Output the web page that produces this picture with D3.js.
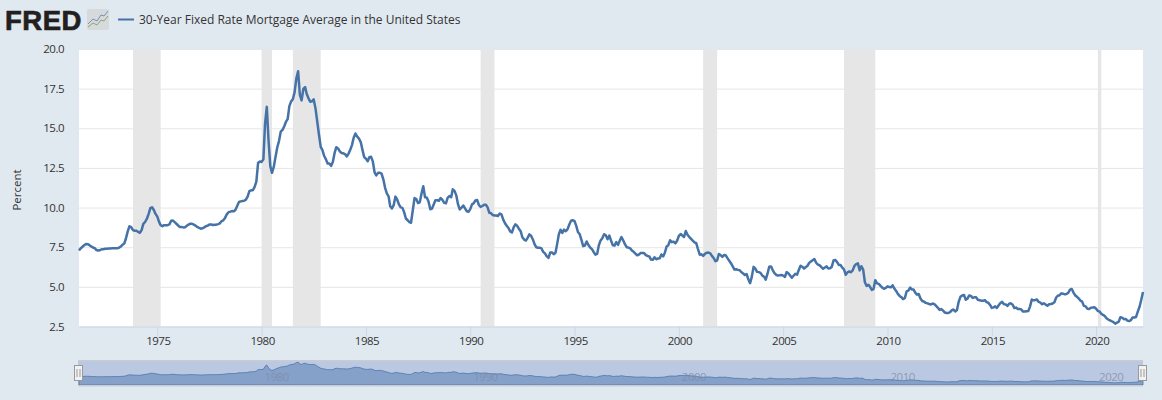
<!doctype html>
<html lang="en">
<head>
<meta charset="utf-8">
<title>30-Year Fixed Rate Mortgage Average</title>
<script src="https://d3js.org/d3.v7.min.js"></script>
<style>
  html, body { margin: 0; padding: 0; background: #e1e9f0; }
  svg { display: block; font-family: "Open Sans", sans-serif; }
  .axis text { fill: #333; font-size: 11.5px; letter-spacing: -0.5px; font-family: "Open Sans", sans-serif; }
  .xaxis .domain { stroke: #ccd6eb; }
  .xaxis line { stroke: #ccd6eb; }
  .grid line { stroke: #e6e6e6; }
  .grid .domain { display: none; }
</style>
</head>
<body>
<svg id="chart" width="1162" height="400"></svg>
<script>
var seriesName = "30-Year Fixed Rate Mortgage Average in the United States";
var yLabel = "Percent";
var yTicks = [2.5, 5, 7.5, 10, 12.5, 15, 17.5, 20];
var xTickYears = [1975, 1980, 1985, 1990, 1995, 2000, 2005, 2010, 2015, 2020];
var navTickYears = [1980, 1990, 2000, 2010, 2020];

// recessions, as [year, month]
var recessionStarts = [[1973, 10], [1980, 0], [1981, 6], [1990, 6], [2001, 2], [2007, 11], [2020, 1]];
var recessionEnds = [[1975, 2], [1980, 6], [1982, 10], [1991, 2], [2001, 10], [2009, 5], [2020, 3]];

var firstMonth = [1971, 3];
// monthly values in percent, one row per year, first row starts in April
var rates = [
  7.29, 7.43, 7.53, 7.62, 7.70, 7.69, 7.63, 7.55, 7.48,
  7.44, 7.32, 7.29, 7.31, 7.37, 7.37, 7.40, 7.40, 7.42, 7.42, 7.43, 7.44,
  7.44, 7.44, 7.46, 7.54, 7.65, 7.73, 8.05, 8.50, 8.82, 8.77, 8.58, 8.54,
  8.54, 8.46, 8.41, 8.58, 8.97, 9.09, 9.28, 9.59, 9.96, 10.02, 9.85, 9.60,
  9.43, 9.10, 8.89, 8.82, 8.89, 8.89, 8.89, 8.94, 9.17, 9.18, 9.08, 8.98,
  8.87, 8.77, 8.78, 8.75, 8.76, 8.85, 8.93, 8.98, 8.98, 8.92, 8.86, 8.78,
  8.72, 8.67, 8.69, 8.75, 8.82, 8.86, 8.94, 8.94, 8.90, 8.92, 8.92, 8.96,
  9.01, 9.15, 9.20, 9.35, 9.57, 9.71, 9.74, 9.78, 9.76, 9.86, 10.11, 10.35,
  10.39, 10.41, 10.43, 10.50, 10.69, 11.04, 11.09, 11.09, 11.30, 11.64, 12.83, 12.90,
  12.88, 13.04, 15.28, 16.35, 14.26, 12.61, 12.19, 12.56, 13.20, 13.79, 14.21, 14.79,
  14.90, 15.13, 15.40, 15.58, 16.40, 16.70, 16.83, 17.28, 18.16, 18.60, 17.10, 16.76,
  17.48, 17.60, 17.16, 16.89, 16.68, 16.70, 16.82, 16.27, 15.43, 14.61, 13.83, 13.62,
  13.25, 13.04, 12.78, 12.78, 12.63, 12.87, 13.43, 13.81, 13.73, 13.54, 13.44, 13.42,
  13.37, 13.23, 13.39, 13.65, 13.94, 14.42, 14.67, 14.47, 14.35, 14.13, 13.64, 13.18,
  13.08, 12.92, 13.17, 13.20, 12.91, 12.22, 12.03, 12.19, 12.19, 12.14, 11.78, 11.26,
  10.89, 10.71, 10.08, 9.94, 10.15, 10.69, 10.51, 10.20, 10.01, 9.98, 9.70, 9.31,
  9.20, 9.08, 9.04, 9.83, 10.60, 10.54, 10.28, 10.33, 10.89, 11.35, 10.65, 10.64,
  10.38, 9.89, 9.93, 10.20, 10.46, 10.46, 10.43, 10.60, 10.48, 10.30, 10.27, 10.61,
  10.73, 10.65, 11.15, 11.05, 10.77, 10.20, 9.88, 9.99, 10.13, 9.95, 9.77, 9.74,
  9.90, 10.20, 10.27, 10.45, 10.48, 10.16, 10.04, 10.10, 10.18, 10.18, 10.01, 9.67,
  9.64, 9.53, 9.50, 9.50, 9.47, 9.62, 9.57, 9.24, 9.01, 8.86, 8.71, 8.50,
  8.43, 8.76, 8.94, 8.85, 8.67, 8.51, 8.13, 7.98, 7.92, 8.09, 8.31, 8.22,
  7.99, 7.68, 7.50, 7.47, 7.47, 7.42, 7.21, 7.11, 6.92, 6.83, 7.16, 7.17,
  7.06, 7.15, 7.68, 8.32, 8.60, 8.40, 8.61, 8.51, 8.64, 8.93, 9.17, 9.20,
  9.15, 8.83, 8.46, 8.32, 7.96, 7.57, 7.61, 7.86, 7.64, 7.48, 7.38, 7.20,
  7.03, 7.08, 7.62, 7.93, 8.07, 8.32, 8.25, 8.00, 8.23, 7.92, 7.62, 7.60,
  7.82, 7.65, 7.90, 8.14, 7.94, 7.69, 7.50, 7.48, 7.43, 7.29, 7.21, 7.10,
  6.99, 7.04, 7.13, 7.14, 7.14, 7.00, 6.95, 6.92, 6.72, 6.71, 6.87, 6.74,
  6.79, 6.81, 7.04, 6.92, 7.15, 7.55, 7.63, 7.94, 7.82, 7.85, 7.74, 7.91,
  8.21, 8.33, 8.24, 8.15, 8.52, 8.29, 8.15, 8.03, 7.91, 7.80, 7.75, 7.38,
  7.03, 7.05, 6.95, 7.08, 7.15, 7.16, 7.13, 6.95, 6.82, 6.62, 6.66, 7.07,
  7.00, 6.89, 7.01, 6.99, 6.81, 6.65, 6.49, 6.29, 6.09, 6.11, 6.07, 6.05,
  5.92, 5.84, 5.75, 5.81, 5.48, 5.23, 5.63, 6.26, 6.15, 5.95, 5.93, 5.88,
  5.71, 5.64, 5.45, 5.83, 6.27, 6.29, 6.06, 5.87, 5.75, 5.72, 5.73, 5.75,
  5.71, 5.63, 5.93, 5.86, 5.72, 5.58, 5.70, 5.82, 5.77, 6.07, 6.33, 6.27,
  6.15, 6.25, 6.32, 6.51, 6.60, 6.68, 6.76, 6.52, 6.40, 6.36, 6.24, 6.14,
  6.22, 6.29, 6.16, 6.18, 6.26, 6.66, 6.70, 6.57, 6.38, 6.38, 6.21, 6.10,
  5.76, 5.92, 5.97, 5.92, 6.04, 6.32, 6.43, 6.48, 6.04, 6.30, 6.09, 5.29,
  5.05, 5.13, 5.00, 4.81, 4.86, 5.42, 5.22, 5.19, 5.06, 4.95, 4.88, 4.93,
  5.03, 4.99, 4.97, 5.10, 4.89, 4.74, 4.56, 4.43, 4.35, 4.23, 4.30, 4.71,
  4.76, 4.95, 4.84, 4.84, 4.64, 4.51, 4.55, 4.27, 4.11, 4.07, 3.99, 3.96,
  3.92, 3.89, 3.95, 3.91, 3.80, 3.68, 3.55, 3.60, 3.50, 3.38, 3.35, 3.35,
  3.41, 3.53, 3.57, 3.45, 3.54, 4.07, 4.37, 4.46, 4.49, 4.19, 4.26, 4.46,
  4.43, 4.30, 4.34, 4.34, 4.19, 4.16, 4.13, 4.12, 4.16, 4.04, 4.00, 3.86,
  3.67, 3.71, 3.77, 3.67, 3.84, 3.98, 4.05, 3.91, 3.89, 3.80, 3.94, 3.96,
  3.87, 3.66, 3.69, 3.61, 3.60, 3.57, 3.44, 3.44, 3.46, 3.47, 3.77, 4.20,
  4.15, 4.17, 4.20, 4.05, 4.01, 3.90, 3.97, 3.88, 3.81, 3.90, 3.92, 3.95,
  4.03, 4.33, 4.44, 4.47, 4.59, 4.57, 4.53, 4.55, 4.63, 4.83, 4.87, 4.64,
  4.46, 4.37, 4.27, 4.14, 4.07, 3.80, 3.77, 3.62, 3.61, 3.69, 3.70, 3.72,
  3.62, 3.47, 3.45, 3.31, 3.23, 3.16, 3.02, 2.94, 2.89, 2.83, 2.77, 2.68,
  2.74, 2.81, 3.08, 3.06, 2.96, 2.98, 2.87, 2.84, 2.90, 3.07, 3.07, 3.10,
  3.45, 3.76, 4.17, 4.67
];

function utc(ym) { return new Date(Date.UTC(ym[0], ym[1], 1)); }

var dates = rates.map(function(d, i) { return utc([firstMonth[0], firstMonth[1] + i]); });

var plot = { left: 79, right: 1143, top: 49, bottom: 326.5 };
var nav = { top: 361, bottom: 385 };

var x = d3.scaleUtc().domain(d3.extent(dates)).range([plot.left, plot.right]);
var y = d3.scaleLinear().domain([2.5, 20]).range([plot.bottom, plot.top]);
var yNav = d3.scaleLinear().domain([1, 19.4]).range([nav.bottom, nav.top]);

var svg = d3.select("#chart");
var lineColor = "#4572a7";

// plot background and recession bands
svg.append("rect")
  .attr("x", plot.left).attr("y", plot.top)
  .attr("width", plot.right - plot.left).attr("height", plot.bottom - plot.top)
  .attr("fill", "#fff");

svg.append("g").attr("class", "grid")
  .attr("transform", "translate(" + plot.left + ",0)")
  .call(d3.axisLeft(y).tickValues(yTicks).tickSize(-(plot.right - plot.left)).tickFormat(""));

svg.append("g").selectAll("rect")
  .data(recessionStarts)
  .join("rect")
  .attr("x", function(d) { return x(utc(d)); })
  .attr("width", function(d, i) { return x(utc(recessionEnds[i])) - x(utc(d)); })
  .attr("y", plot.top)
  .attr("height", plot.bottom - plot.top)
  .attr("fill", "#e6e6e6");

// axes
var xAxis = svg.append("g").attr("class", "axis xaxis")
  .attr("transform", "translate(0," + plot.bottom + ")")
  .call(d3.axisBottom(x)
    .tickValues(xTickYears.map(function(v) { return utc([v, 0]); }))
    .tickSize(10).tickSizeOuter(0)
    .tickFormat(d3.utcFormat("%Y")));
xAxis.selectAll("text").attr("y", 10.5).attr("dx", 0.5);

var yAxis = svg.append("g").attr("class", "axis")
  .attr("transform", "translate(64,0)")
  .call(d3.axisLeft(y).tickValues(yTicks).tickSize(0).tickPadding(0).tickFormat(d3.format(".1f")));
yAxis.select(".domain").remove();

svg.append("text")
  .attr("transform", "translate(17,190) rotate(-90)")
  .attr("text-anchor", "middle")
  .attr("dy", "0.35em")
  .attr("font-size", 11.5)
  .attr("fill", "#333")
  .text(yLabel);

// series
svg.append("path")
  .datum(rates)
  .attr("fill", "none")
  .attr("stroke", lineColor)
  .attr("stroke-width", 2.5)
  .attr("stroke-linejoin", "round")
  .attr("d", d3.line()
    .x(function(d, i) { return x(dates[i]); })
    .y(function(d) { return y(d); }));

// header: logo and legend
svg.append("text")
  .attr("x", 5).attr("y", 29.5)
  .attr("font-family", "Liberation Sans, Arial, sans-serif")
  .attr("font-weight", 700)
  .attr("font-size", 27.5)
  .attr("letter-spacing", 0.5)
  .attr("fill", "#231f20")
  .attr("stroke", "#231f20")
  .attr("stroke-width", 0.7)
  .text("FRED");

var icon = svg.append("g").attr("fill", "none").attr("stroke-width", 1);
icon.append("rect").attr("x", 87).attr("y", 9).attr("width", 22).attr("height", 21).attr("rx", 2)
  .attr("fill", "#d6dadd").attr("stroke", "none");
icon.append("polyline").attr("points", "88,24 93,19 97,21 101,15 104,16 108,11").attr("stroke", "#7292b5");
icon.append("polyline").attr("points", "88,27 93,23 97,25 101,20 104,21 108,16").attr("stroke", "#8aa768");

svg.append("line")
  .attr("x1", 118).attr("x2", 134).attr("y1", 19.5).attr("y2", 19.5)
  .attr("stroke", lineColor).attr("stroke-width", 2);
svg.append("text")
  .attr("x", 139).attr("y", 24)
  .attr("font-size", 12)
  .attr("fill", "#333")
  .text(seriesName);

// navigator
svg.append("rect")
  .attr("x", plot.left - 1).attr("y", nav.top)
  .attr("width", plot.right - plot.left + 1).attr("height", nav.bottom - nav.top)
  .attr("fill", "#bac8e2");

svg.append("path")
  .datum(rates)
  .attr("fill", "#86a1c9")
  .attr("stroke", lineColor)
  .attr("stroke-opacity", 0.75)
  .attr("d", d3.area()
    .x(function(d, i) { return x(dates[i]); })
    .y0(nav.bottom)
    .y1(function(d) { return yNav(d); }));

svg.append("g").selectAll("rect")
  .data([nav.top - 1, nav.bottom])
  .join("rect")
  .attr("x", plot.left - 1).attr("y", function(d) { return d; })
  .attr("width", plot.right - plot.left + 1).attr("height", 1.5)
  .attr("fill", "#c8ccd2");

svg.append("g").selectAll("text")
  .data(navTickYears)
  .join("text")
  .attr("x", function(d) { return x(utc([d, 0])) + 3; })
  .attr("y", 381)
  .attr("font-size", 11.5)
  .attr("letter-spacing", -0.5)
  .attr("fill", "#7f8aa3")
  .attr("fill-opacity", 0.75)
  .text(function(d) { return d; });

var handle = svg.append("g").selectAll("g")
  .data([plot.left - 0.5, plot.right - 0.5])
  .join("g")
  .attr("transform", function(d) { return "translate(" + d + ",365.5)"; });
handle.append("rect")
  .attr("x", -4).attr("width", 8).attr("height", 15)
  .attr("fill", "#f2f2f2").attr("stroke", "#999");
handle.selectAll("line")
  .data([-1.5, 1.5])
  .join("line")
  .attr("x1", function(d) { return d; }).attr("x2", function(d) { return d; })
  .attr("y1", 3.5).attr("y2", 11.5)
  .attr("stroke", "#999");
</script>
</body>
</html>
